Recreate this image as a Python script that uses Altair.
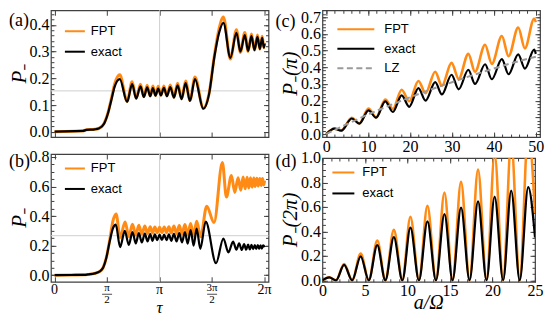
import math
import altair as alt
import pandas as pd

PI = math.pi
SERIF = "Liberation Serif"
SANS = "Liberation Sans"
ORANGE = "#ff8a14"
BLACK = "#000000"
GRAY = "#9a9a9a"
GRID = "#cfcfcf"
FRAME = "#404040"

# ---------------- panel (a) ----------------
tau_a = [0.0, 0.3, 0.6, 0.85, 0.95, 1.2, 1.32, 1.48, 1.6, 1.7, 1.8, 1.95, 2.17, 2.32, 2.44,
         2.57, 2.67, 2.77, 2.86, 2.94, 3.02, 3.10, 3.18, 3.27, 3.36, 3.46, 3.57, 3.68, 3.80,
         3.92, 4.05, 4.20, 4.45, 4.62, 4.78, 4.92, 5.05, 5.26, 5.44, 5.56, 5.69, 5.79, 5.89,
         5.98, 6.07, 6.14, 6.21, 6.26, 6.283]
exact_a = [0.0, 0.001, 0.002, 0.003, 0.007, 0.009, 0.012, 0.03, 0.07, 0.12, 0.17, 0.197, 0.112,
           0.178, 0.124, 0.170, 0.130, 0.166, 0.133, 0.163, 0.135, 0.162, 0.136, 0.164, 0.133,
           0.167, 0.128, 0.174, 0.122, 0.182, 0.115, 0.197, 0.086, 0.14, 0.28, 0.37, 0.408,
           0.277, 0.370, 0.300, 0.362, 0.303, 0.358, 0.306, 0.355, 0.310, 0.352, 0.315, 0.33]
fpt_a = [0.0, 0.001, 0.002, 0.003, 0.007, 0.009, 0.012, 0.031, 0.072, 0.125, 0.18, 0.213, 0.114,
         0.187, 0.125, 0.178, 0.131, 0.174, 0.134, 0.171, 0.136, 0.170, 0.137, 0.171, 0.134,
         0.175, 0.129, 0.182, 0.123, 0.190, 0.117, 0.205, 0.088, 0.142, 0.285, 0.385, 0.430,
         0.272, 0.382, 0.297, 0.372, 0.301, 0.366, 0.305, 0.362, 0.309, 0.358, 0.315, 0.333]
grid_a_x = [PI]
grid_a_y = [0.153]

# ---------------- panel (b) ----------------
tau_b_exact = [0.0, 0.5, 0.9, 1.0, 1.2, 1.35, 1.45, 1.55, 1.65, 1.75, 1.83, 1.96, 2.10, 2.22,
               2.33, 2.43, 2.52, 2.61, 2.70, 2.78, 2.86, 2.93, 3.00, 3.07, 3.14, 3.21, 3.28,
               3.35, 3.42, 3.49, 3.57, 3.65, 3.73, 3.81, 3.90, 3.98, 4.07, 4.16, 4.25, 4.36,
               4.52, 4.83, 5.05, 5.20, 5.34, 5.44, 5.52, 5.60, 5.67, 5.73, 5.79, 5.84, 5.89,
               5.94, 5.99, 6.03, 6.08, 6.12, 6.16, 6.20, 6.24, 6.283]
exact_b = [0.0, 0.001, 0.002, 0.005, 0.012, 0.025, 0.05, 0.12, 0.23, 0.32, 0.342, 0.19, 0.30,
           0.205, 0.292, 0.215, 0.285, 0.222, 0.281, 0.228, 0.278, 0.232, 0.276, 0.236, 0.274,
           0.238, 0.274, 0.236, 0.276, 0.232, 0.279, 0.228, 0.284, 0.222, 0.292, 0.213, 0.305,
           0.20, 0.315, 0.178, 0.363, 0.081, 0.248, 0.154, 0.227, 0.172, 0.215, 0.17, 0.21,
           0.172, 0.207, 0.174, 0.205, 0.176, 0.204, 0.178, 0.203, 0.179, 0.202, 0.18, 0.201,
           0.19]
tau_b_fpt = [0.0, 0.5, 0.9, 1.0, 1.2, 1.35, 1.45, 1.55, 1.65, 1.75, 1.84, 1.96, 2.11, 2.22,
             2.33, 2.43, 2.52, 2.61, 2.70, 2.78, 2.86, 2.93, 3.00, 3.07, 3.14, 3.21, 3.28,
             3.35, 3.42, 3.49, 3.57, 3.65, 3.73, 3.81, 3.90, 3.98, 4.07, 4.16, 4.25, 4.37,
             4.55, 4.77, 5.02, 5.14, 5.29, 5.39, 5.49, 5.57, 5.64, 5.70, 5.76, 5.81, 5.86,
             5.91, 5.96, 6.00, 6.05, 6.09, 6.14, 6.18, 6.22, 6.26, 6.283]
fpt_b = [0.0, 0.001, 0.002, 0.005, 0.012, 0.025, 0.05, 0.12, 0.24, 0.37, 0.414, 0.255, 0.36,
         0.26, 0.345, 0.27, 0.337, 0.277, 0.332, 0.282, 0.328, 0.285, 0.326, 0.287, 0.325,
         0.288, 0.326, 0.287, 0.328, 0.285, 0.332, 0.282, 0.336, 0.278, 0.342, 0.272, 0.35,
         0.265, 0.365, 0.26, 0.467, 0.356, 0.7625, 0.529, 0.675, 0.56, 0.66, 0.575, 0.665,
         0.585, 0.663, 0.59, 0.66, 0.595, 0.658, 0.60, 0.656, 0.603, 0.655, 0.607, 0.654,
         0.61, 0.64]
grid_b_x = [PI]
grid_b_y = [0.267]
tau_ticks = [0.0, PI / 2, PI, 3 * PI / 2, 2 * PI]
tick_num = ["0", "π", "π", "3π", "2π"]
tick_den = ["", "2", "", "2", ""]

# ---------------- panel (c) ----------------
a_c = [0, 2.0, 3.6, 6.1, 7.9, 10.1, 11.9, 14.1, 15.9, 18.0, 19.8, 22.0, 23.7, 26.0, 27.6,
       29.9, 31.6, 33.9, 35.5, 37.9, 39.5, 41.9, 43.5, 45.8, 47.4, 49.6, 50]
exact_c = [0, 0.032, 0.02, 0.093, 0.062, 0.142, 0.098, 0.196, 0.132, 0.232, 0.163, 0.275, 0.2,
           0.311, 0.237, 0.355, 0.268, 0.385, 0.3, 0.418, 0.328, 0.448, 0.358, 0.477, 0.392,
           0.505, 0.48]
fpt_c = [0, 0.033, 0.021, 0.097, 0.064, 0.152, 0.10, 0.207, 0.15, 0.265, 0.196, 0.318, 0.245,
         0.373, 0.289, 0.426, 0.33, 0.48, 0.373, 0.535, 0.42, 0.587, 0.466, 0.638, 0.513,
         0.69, 0.67]
a_lz = [0, 5, 10, 15, 20, 25, 30, 35, 40, 45, 50]
lz_c = [0, 0.06, 0.117, 0.17, 0.22, 0.267, 0.31, 0.353, 0.392, 0.43, 0.463]

# ---------------- panel (d) ----------------
a_d = [0, 0.8, 1.6, 2.55, 3.5, 4.5, 5.45, 6.45, 7.4, 8.4, 9.4, 10.35, 11.35, 12.35, 13.35,
       14.35, 15.3, 16.3, 17.3, 18.3, 19.3, 20.25, 21.25, 22.2, 23.2, 24.2, 25]
exact_d = [0, 0.024, 0, 0.127, 0, 0.196, 0, 0.287, 0, 0.353, 0, 0.43, 0, 0.482, 0, 0.542, 0,
           0.595, 0, 0.645, 0, 0.685, 0, 0.734, 0, 0.762, 0.35]
fpt_d = [0, 0.025, 0, 0.133, 0, 0.218, 0, 0.325, 0, 0.412, 0, 0.52, 0, 0.61, 0, 0.718, 0,
         0.805, 0, 0.905, 0, 1.03, 0, 1.13, 0, 1.22, 0.55]

# ---------------- helpers ----------------
def frame(xs, ys, name):
    return pd.DataFrame({"x": xs, "y": ys, "series": name})


def axis(orient, values, size, labels=False, fmt=None, pad=2):
    kw = dict(orient=orient, values=list(values), tickSize=size, offset=-size,
              domain=False, grid=False, ticks=True, tickColor=FRAME, tickWidth=1,
              labels=labels, title=None)
    if labels:
        kw.update(labelFont=SERIF, labelFontSize=16, labelColor="black",
                  labelPadding=pad, labelFlush=False, labelOverlap=False)
        if fmt:
            kw["format"] = fmt
    return alt.Axis(**kw)


def text_layer(txt, x, y, size, italic=False, angle=0, align="center", font=SERIF):
    kw = dict(font=font, fontSize=size, baseline="middle", align=align, color="black")
    if italic:
        kw["fontStyle"] = "italic"
    if angle:
        kw["angle"] = angle
    return alt.Chart(pd.DataFrame({"t": [txt]})).mark_text(**kw).encode(
        text="t:N", x=alt.value(x), y=alt.value(y))


def legend_layers(series, x0, length, y0, dy, tx):
    out = []
    for i, s in enumerate(series):
        y = y0 + i * dy
        kw = dict(color=s["color"], strokeWidth=2)
        if s.get("dash"):
            kw["strokeDash"] = s["dash"]
        rule = alt.Chart(pd.DataFrame({"n": [s["name"]]})).mark_rule(**kw).encode(
            x=alt.value(x0), x2=alt.value(x0 + length), y=alt.value(y))
        out.append(const(rule))
        out.append(const(text_layer(s["name"], tx, y, 13, align="left", font=SANS)))
    return out


def panel(W, H, xdom, ydom, series, xmaj, xmin, ymaj, ymin, xlabels, xfmt, yfmt,
          below=(), above=()):
    xs = alt.Scale(domain=xdom, nice=False, zero=False)
    ys = alt.Scale(domain=ydom, nice=False, zero=False)
    layers = [f(xs, ys) for f in below]
    for i, s in enumerate(series):
        if i == 0:
            xa = axis("bottom", xmaj, 5, labels=xlabels, fmt=xfmt, pad=1)
            ya = axis("left", ymaj, 5, labels=True, fmt=yfmt, pad=2)
        elif i == 1:
            xa = axis("top", xmaj, 5)
            ya = axis("right", ymaj, 5)
        else:
            xa = None
            ya = None
        mk = dict(strokeWidth=s["width"], interpolate="monotone", clip=True, color=s["color"])
        if s.get("dash"):
            mk["strokeDash"] = s["dash"]
        layers.append(alt.Chart(s["df"]).mark_line(**mk).encode(
            x=alt.X("x:Q", scale=xs, axis=xa),
            y=alt.Y("y:Q", scale=ys, axis=ya),
            detail="series:N"))
    ref = series[-1]["df"]
    for ox, oy in (("bottom", "left"), ("top", "right")):
        layers.append(alt.Chart(ref).mark_line(opacity=0).encode(
            x=alt.X("x:Q", scale=xs, axis=axis(ox, xmin, 3) if xmin else None),
            y=alt.Y("y:Q", scale=ys, axis=axis(oy, ymin, 3))))
    layers += [f(xs, ys) for f in above]
    return alt.layer(*layers).resolve_axis(x="independent", y="independent").properties(
        width=W, height=H)


def vgrid(vals):
    return lambda xs, ys: alt.Chart(pd.DataFrame({"x": vals})).mark_rule(
        color=GRID, strokeWidth=1).encode(x=alt.X("x:Q", scale=xs, axis=None))


def hgrid(vals):
    return lambda xs, ys: alt.Chart(pd.DataFrame({"y": vals})).mark_rule(
        color=GRID, strokeWidth=1).encode(y=alt.Y("y:Q", scale=ys, axis=None))


def const(ch):
    return lambda xs, ys: ch


def xtext(vals, texts, y, size, italic=False):
    def f(xs, ys):
        kw = dict(font=SERIF, fontSize=size, baseline="middle", align="center", color="black")
        if italic:
            kw["fontStyle"] = "italic"
        return alt.Chart(pd.DataFrame({"x": vals, "t": texts})).mark_text(**kw).encode(
            x=alt.X("x:Q", scale=xs, axis=None), y=alt.value(y), text="t:N")
    return f


def xbars(vals, y):
    return lambda xs, ys: alt.Chart(pd.DataFrame({"x": vals})).mark_tick(
        orient="horizontal", size=10, thickness=1, color="black").encode(
        x=alt.X("x:Q", scale=xs, axis=None), y=alt.value(y))


W1, HA, HB = 218, 127, 128
WC, HC, WD, HD = 218, 127, 213, 124

TAU_DOM = [-0.11, 6.40]
ya_maj = [0.0, 0.1, 0.2, 0.3, 0.4]
ya_min = [round(0.02 * i, 2) for i in range(23)]
yb_maj = [0.0, 0.2, 0.4, 0.6, 0.8]
yb_min = [round(0.05 * i, 2) for i in range(17)]
yc_maj = [round(0.1 * i, 1) for i in range(8)]
yc_min = [round(0.02 * i, 2) for i in range(37)]
xc_maj = list(range(0, 51, 10))
xc_min = list(range(0, 51, 2))
yd_maj = [round(0.2 * i, 1) for i in range(6)]
yd_min = [round(0.05 * i, 2) for i in range(21)]
xd_maj = list(range(0, 26, 5))
xd_min = list(range(0, 26))

# (a)
ser_a = [dict(name="FPT", color=ORANGE, width=3, df=frame(tau_a, fpt_a, "FPT")),
         dict(name="exact", color=BLACK, width=2.2, df=frame(tau_a, exact_a, "exact"))]
pa = panel(
    W1, HA, TAU_DOM, [-0.02, 0.455], ser_a, tau_ticks, None, ya_maj, ya_min, False, None, ".1f",
    below=[vgrid(grid_a_x), hgrid(grid_a_y)],
    above=[const(text_layer("(a)", -42, 11, 18, align="left")),
           const(text_layer("P₋", -31, HA / 2, 21, italic=True, angle=270))]
    + legend_layers(ser_a, 14, 20, 21, 20.5, 40))

# (b)
simple_x = [v for v, d in zip(tau_ticks, tick_den) if d == ""]
simple_t = [n for n, d in zip(tick_num, tick_den) if d == ""]
frac_x = [v for v, d in zip(tau_ticks, tick_den) if d != ""]
frac_n = [n for n, d in zip(tick_num, tick_den) if d != ""]
frac_d = [d for d in tick_den if d != ""]
ser_b = [dict(name="FPT", color=ORANGE, width=3, df=frame(tau_b_fpt, fpt_b, "FPT")),
         dict(name="exact", color=BLACK, width=2.2, df=frame(tau_b_exact, exact_b, "exact"))]
pb = panel(
    W1, HB, TAU_DOM, [-0.045, 0.82], ser_b, tau_ticks, None, yb_maj, yb_min, False, None, ".1f",
    below=[vgrid(grid_b_x), hgrid(grid_b_y)],
    above=[const(text_layer("(b)", -42, 8, 18, align="left")),
           const(text_layer("P₋", -31, HB / 2, 21, italic=True, angle=270)),
           xtext(simple_x, simple_t, HB + 8, 14),
           xtext(frac_x, frac_n, HB + 6.5, 11),
           xbars(frac_x, HB + 12.5),
           xtext(frac_x, frac_d, HB + 18.5, 11),
           xtext([PI], ["τ"], HB + 26, 17, italic=True)]
    + legend_layers(ser_b, 14, 20, 14.5, 20.5, 40))

# (c)
ser_c = [dict(name="FPT", color=ORANGE, width=2.6, df=frame(a_c, fpt_c, "FPT")),
         dict(name="exact", color=BLACK, width=2.2, df=frame(a_c, exact_c, "exact")),
         dict(name="LZ", color=GRAY, width=2, dash=[6, 3.5], df=frame(a_lz, lz_c, "LZ"))]
pc = panel(
    WC, HC, [-0.9, 51.0], [-0.018, 0.741], ser_c, xc_maj, xc_min, yc_maj, yc_min, True, "d", ".1f",
    above=[const(text_layer("(c)", -47, 12, 18, align="left")),
           const(text_layer("P₋(π)", -31, HC / 2, 21, italic=True, angle=270))]
    + legend_layers(ser_c, 15, 37, 19, 19.5, 62))

# (d)
ser_d = [dict(name="FPT", color=ORANGE, width=2.6, df=frame(a_d, fpt_d, "FPT")),
         dict(name="exact", color=BLACK, width=2.2, df=frame(a_d, exact_d, "exact"))]
pd_ = panel(
    WD, HD, [0, 25], [-0.012, 1.0], ser_d, xd_maj, xd_min, yd_maj, yd_min, True, "d", ".1f",
    above=[const(text_layer("(d)", -47, 4, 18, align="left")),
           const(text_layer("P₋(2π)", -31, HD / 2, 21, italic=True, angle=270)),
           xtext([12.5], ["a/Ω"], HD + 21, 20, italic=True)]
    + legend_layers(ser_d, 10, 22, 14.5, 21, 40))

col1 = alt.vconcat(pa, pb, spacing=17, bounds="flush")
col2 = alt.vconcat(pc, pd_, spacing=21, bounds="flush")
chart = alt.hconcat(col1, col2, spacing=2, bounds="full", padding=0).configure_view(
    stroke=FRAME, strokeWidth=1.2)

chart.save("out.html", embed_options={"renderer": "svg", "actions": False})
